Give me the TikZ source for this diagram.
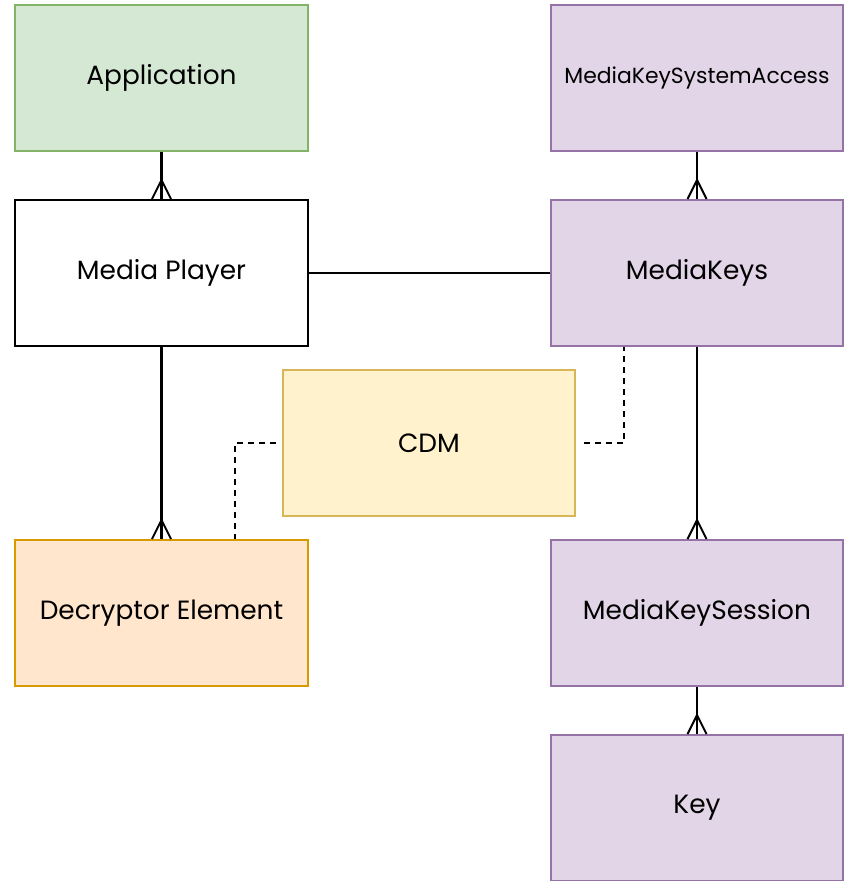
\documentclass[tikz,border=0pt]{standalone}
\usepackage{fontspec}
\setmainfont{Poppins}
\usetikzlibrary{decorations.markings}
\definecolor{greenfill}{HTML}{D5E8D4}
\definecolor{greenline}{HTML}{82B366}
\definecolor{purplefill}{HTML}{E1D5E7}
\definecolor{purpleline}{HTML}{9673A6}
\definecolor{yellowfill}{HTML}{FFF2CC}
\definecolor{yellowline}{HTML}{D6B656}
\definecolor{orangefill}{HTML}{FFE6CC}
\definecolor{orangeline}{HTML}{D79B00}
\tikzset{
  entity/.style={draw, line width=2bp, minimum width=292bp, minimum height=146bp,
    inner sep=0pt, font=\fontsize{26.5}{30}\selectfont, text=black},
  appbox/.style={entity, fill=greenfill, draw=greenline},
  eme/.style={entity, fill=purplefill, draw=purpleline},
  cdmbox/.style={entity, fill=yellowfill, draw=yellowline},
  decbox/.style={entity, fill=orangefill, draw=orangeline},
  plainbox/.style={entity, fill=white, draw=black},
  link/.style={draw=black, line width=2.2bp},
  weak/.style={link, dash pattern=on 6bp off 5bp},
  many/.style={link, postaction={decorate}, decoration={markings,
    mark=at position 1 with {
      \draw[line width=2bp] (-19bp,0) -- (0,9.5bp);
      \draw[line width=2bp] (-19bp,0) -- (0,-9.5bp);
    }}}
}
\begin{document}
\begin{tikzpicture}[x=1bp,y=-1bp]
  \useasboundingbox (0,0) rectangle (844,881);
  % left column
  \node[appbox]   (app)  at (161.5,78)  {Application};
  \node[plainbox] (mp)   at (161.5,273) {Media Player};
  \node[decbox]   (dec)  at (161.5,613) {Decryptor Element};
  % middle
  \node[cdmbox]   (cdm)  at (429,443)   {CDM};
  % right column
  \node[eme, font=\fontsize{22}{26}\selectfont] (mksa) at (697,78) {MediaKeySystemAccess};
  \node[eme]      (mk)   at (697,273)   {MediaKeys};
  \node[eme]      (mks)  at (697,613)   {MediaKeySession};
  \node[eme]      (key)  at (697,808)   {Key};
  % relations
  \draw[many] (app.south) -- (mp.north);
  \draw[many] (mksa.south) -- (mk.north);
  \draw[link] (mp.east) -- (mk.west);
  \draw[many] (mp.south) -- (dec.north);
  \draw[many] (mk.south) -- (mks.north);
  \draw[many] (mks.south) -- (key.north);
  % CDM associations
  \coordinate (cl) at ([xshift=-6bp]cdm.west);
  \coordinate (cr) at ([xshift=8bp]cdm.east);
  \draw[weak] (cl) -| ([xshift=73.5bp]dec.north);
  \draw[weak] (cr) -| ([xshift=-73bp]mk.south);
\end{tikzpicture}
\end{document}
